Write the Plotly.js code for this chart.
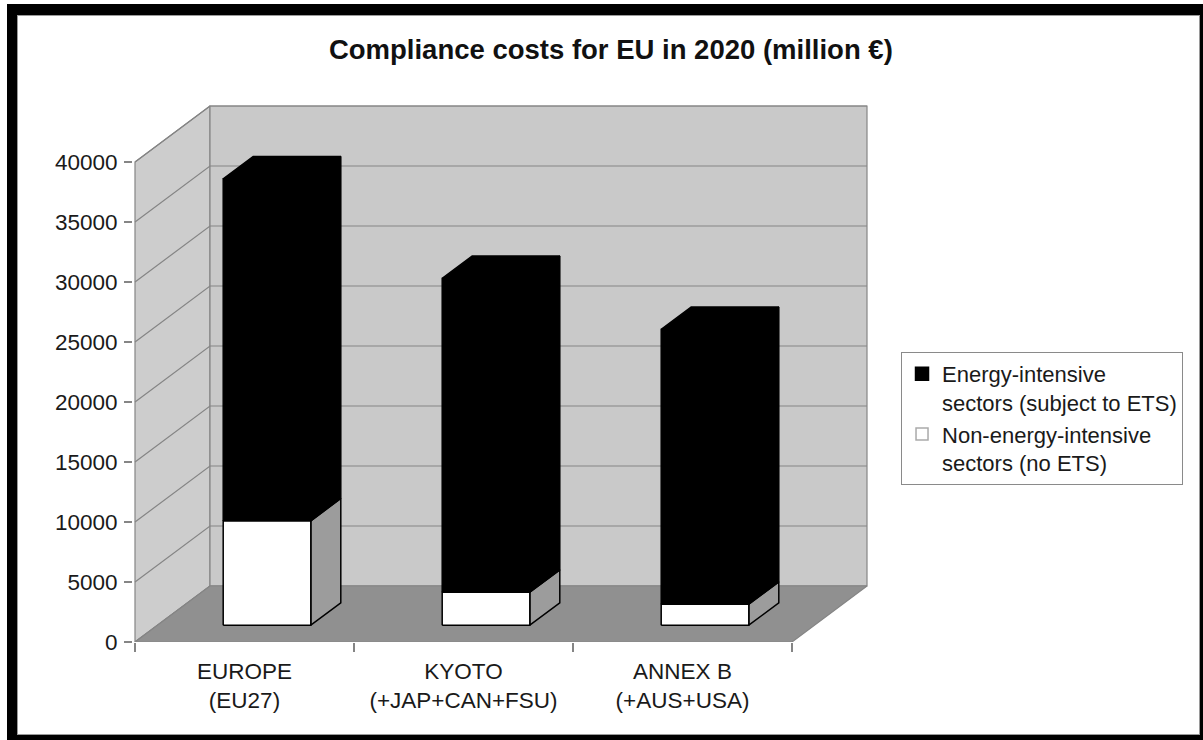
<!DOCTYPE html>
<html>
<head>
<meta charset="utf-8">
<script src="https://cdn.plot.ly/plotly-3.0.1.min.js"></script>
<style>
  html, body { margin: 0; padding: 0; background: #fff; overflow: hidden; }
  #frame { position: absolute; left: 7px; top: 4px; width: 1183px; height: 720px;
    border-left: 10px solid #000; border-top: 11px solid #000; border-right: 3px solid #000; border-bottom: 5px solid #000; }
  #inner { position: absolute; left: 0; top: 0; width: 1181px; height: 718px; border: 1px solid #9a9a9a; }
  #chart { position: absolute; left: 0; top: 0; width: 1181px; height: 718px; }
</style>
</head>
<body>
<div id="frame"><div id="inner"><div id="chart"></div></div></div>
<script>
// ---- data ----
const categories = ['EUROPE<br>(EU27)', 'KYOTO<br>(+JAP+CAN+FSU)', 'ANNEX B<br>(+AUS+USA)'];
const nonEnergy = [8700, 2750, 1750];        // Non-energy-intensive sectors (no ETS)
const energy = [28500, 26150, 22900];        // Energy-intensive sectors (subject to ETS)
const seriesNames = ['Energy-intensive<br>sectors (subject to ETS)', 'Non-energy-intensive<br>sectors (no ETS)'];
const yTicks = [0, 5000, 10000, 15000, 20000, 25000, 30000, 35000, 40000];
const chartTitle = 'Compliance costs for EU in 2020 (million €)';

// ---- 3D geometry (in axis units) ----
const PXX = 219, PXY = 0.012;
const DX = 75 / PXX, DY = 56 / PXY;
const YMAX = yTicks[yTicks.length - 1];
const N = categories.length;
const BAR_W = 0.40, F0 = 0.30, F1 = 0.70;
const XL = -0.5, XR = N - 0.5;

function poly(xs, ys, fill, lineColor, lw) {
  return { type: 'scatter', mode: 'lines', x: xs.concat([xs[0]]), y: ys.concat([ys[0]]),
    fill: 'toself', fillcolor: fill, line: { color: lineColor, width: lw },
    hoverinfo: 'skip', showlegend: false };
}

const traces = [];
// walls and floor
traces.push(poly([XL, XL, XL + DX, XL + DX], [0, YMAX, YMAX + DY, DY], '#cdcdcd', '#858585', 1.2));
traces.push(poly([XL + DX, XR + DX, XR + DX, XL + DX], [DY, DY, YMAX + DY, YMAX + DY], '#c9c9c9', '#858585', 1.2));
// gridlines
const gx = [], gy = [];
yTicks.forEach(v => {
  gx.push(XL, XL + DX, XR + DX, null);
  gy.push(v, v + DY, v + DY, null);
});
traces.push({ type: 'scatter', mode: 'lines', x: gx, y: gy, line: { color: '#858585', width: 1.2 },
  hoverinfo: 'skip', showlegend: false });
traces.push(poly([XL, XR, XR + DX, XL + DX], [0, 0, DY, DY], '#909090', '#858585', 1.2));

// bars
function box(i, y0, y1, frontFill, sideFill, withTop) {
  const x0 = i - BAR_W / 2 + F0 * DX, x1 = x0 + BAR_W;
  const yo = F0 * DY, yb = F1 * DY, d = (F1 - F0) * DX;
  traces.push(poly([x1, x1 + d, x1 + d, x1], [y0 + yo, y0 + yb, y1 + yb, y1 + yo], sideFill, '#000', 1.5));
  if (withTop) traces.push(poly([x0, x1, x1 + d, x0 + d], [y1 + yo, y1 + yo, y1 + yb, y1 + yb], frontFill, '#000', 1.5));
  traces.push(poly([x0, x1, x1, x0], [y0 + yo, y0 + yo, y1 + yo, y1 + yo], frontFill, '#000', 1.5));
}
for (let i = 0; i < N; i++) {
  box(i, 0, nonEnergy[i], '#ffffff', '#9c9c9c', false);
  box(i, nonEnergy[i], nonEnergy[i] + energy[i], '#000000', '#000000', true);
}

// legend-only traces (placed outside the visible range)
traces.push({ type: 'bar', x: [100], y: [1], name: seriesNames[0], marker: { color: '#000', line: { color: '#000', width: 2.5 } }, hoverinfo: 'skip' });
traces.push({ type: 'bar', x: [100], y: [1], name: seriesNames[1], marker: { color: '#fff', line: { color: '#aaa', width: 1.5 } }, hoverinfo: 'skip' });
// dummy trace for the tick-mark axis
traces.push({ type: 'scatter', mode: 'lines', x: [100, 101], y: [0, 0], xaxis: 'x2', hoverinfo: 'skip', showlegend: false });

const padX = 2 / PXX, padY = 2 / PXY;
const font = 'Liberation Sans, Arial, Helvetica, sans-serif';
const layout = {
  width: 1181, height: 718, autosize: false,
  margin: { l: 115, r: 330, t: 88, b: 92, pad: 0 },
  paper_bgcolor: '#fff', plot_bgcolor: 'rgba(0,0,0,0)',
  font: { family: font, color: '#1a1a1a', size: 22 },
  title: { text: '<b>' + chartTitle + '</b>', font: { family: font, size: 27.5, color: '#111' },
    xref: 'container', yref: 'container', x: 0.502, xanchor: 'center', y: 0.953, yanchor: 'middle' },
  showlegend: true,
  legend: { x: 1.0435, xanchor: 'left', y: 0.539, yanchor: 'top', bgcolor: '#fff', bordercolor: '#8a8a8a', borderwidth: 1,
    font: { family: font, size: 22, color: '#1a1a1a' }, valign: 'top', traceorder: 'normal', tracegroupgap: 0 },
  xaxis: { range: [XL - padX, XR + DX + padX], tickvals: categories.map((c, i) => i), ticktext: categories,
    ticks: 'outside', ticklen: 9, tickcolor: 'rgba(0,0,0,0)', showgrid: false, zeroline: false, showline: false,
    tickfont: { family: font, size: 22.5, color: '#1a1a1a' }, fixedrange: true },
  xaxis2: { overlaying: 'x', anchor: 'y', side: 'bottom', range: [XL - padX, XR + DX + padX],
    tickvals: Array.from({ length: N + 1 }, (_, k) => k - 0.5), ticks: 'outside', ticklen: 9, tickcolor: '#858585', tickwidth: 1.2,
    showticklabels: false, showgrid: false, zeroline: false, showline: false, fixedrange: true },
  yaxis: { range: [0, YMAX + DY + padY], tickvals: yTicks, ticktext: yTicks.map(String), ticks: 'outside', ticklen: 8,
    tickcolor: '#858585', tickwidth: 1.2, ticklabelstandoff: 2, showgrid: false, zeroline: false, showline: false,
    tickfont: { family: font, size: 22.5, color: '#1a1a1a' }, fixedrange: true },
  bargap: 0
};
Plotly.newPlot('chart', traces, layout, { staticPlot: true, displayModeBar: false });
</script>
</body>
</html>
